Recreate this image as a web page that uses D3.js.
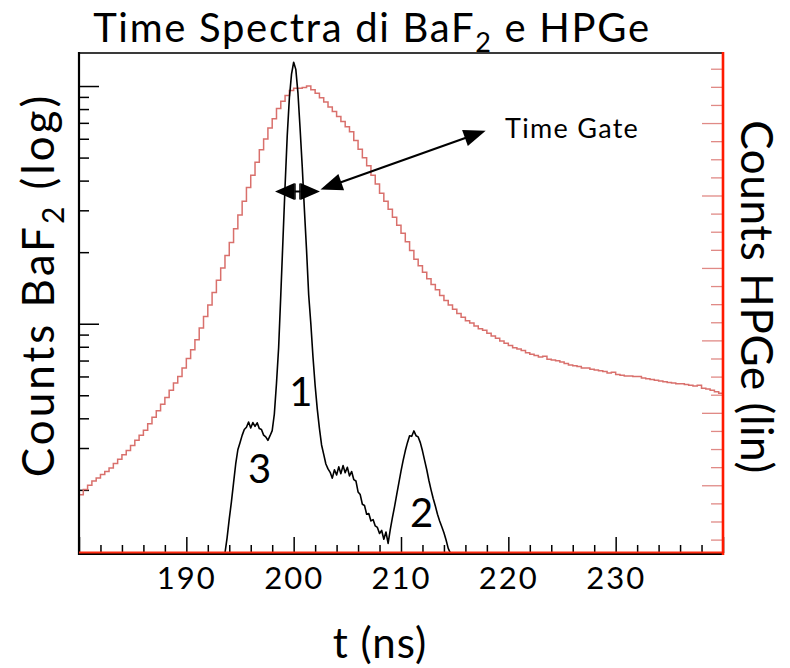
<!DOCTYPE html>
<html>
<head>
<meta charset="utf-8">
<script src="https://cdn.jsdelivr.net/npm/d3@7"></script>
<style>
	body { margin: 0; background: #fff; }
	text { font-family: Lato, "Open Sans", sans-serif; fill: #000; }
</style>
</head>
<body>
<div id="chart"></div>
<script>
// HPGe spectrum (red, linear right axis): 150 bins of 0.4 ns starting at 180 ns
var hpgeStart = 180, hpgeBinWidth = 0.4;
var hpgeCounts = [
	87, 94, 100, 106, 110, 115, 119, 124, 130, 136,
	142, 148, 155, 162, 169, 176, 185, 194, 203, 212,
	221, 231, 241, 250, 262, 275, 287, 301, 317, 333,
	349, 366, 383, 400, 417, 435, 454, 473, 492, 511,
	528, 546, 563, 578, 593, 606, 620, 630, 638, 645,
	648, 648, 649, 651, 646, 641, 635, 629, 622, 616,
	609, 602, 595, 588, 576, 564, 552, 541, 528, 516,
	503, 492, 481, 470, 459, 448, 436, 424, 412, 403,
	394, 385, 377, 370, 362, 355, 349, 343, 337, 332,
	327, 324, 320, 316, 314, 310, 306, 303, 299, 296,
	293, 290, 288, 286, 283, 281, 279, 277, 278, 274,
	273, 272, 270, 268, 266, 265, 264, 262, 262, 260,
	259, 258, 257, 255, 256, 253, 252, 251, 251, 250,
	250, 248, 247, 246, 245, 244, 243, 242, 241, 240,
	240, 239, 238, 237, 238, 234, 233, 231, 229, 227
];

// BaF2 spectrum (black, log left axis): sampled every 0.2 ns from 193.6 ns
var bafStart = 193.6, bafStep = 0.2;
var bafCounts = [
	0, 12.6, 15.1, 17.8, 21.4, 25.7, 29.5, 31.6, 33.9, 35.9,
	36.7, 38.6, 36.4, 38.4, 37.0, 38.3, 36.2, 35.9, 34.0, 33.4,
	32.3, 33.8, 35.5, 41.7, 56.2, 79.4, 132, 224, 380, 617,
	891, 1122, 1259, 1175, 933, 661, 457, 302, 204, 132,
	100, 72.4, 55, 43.7, 36.3, 30.9, 28.2, 25.7, 24.5, 23.7,
	22.4, 24.3, 23.1, 25.0, 23.4, 25.3, 23.6, 24.9, 22.9, 23.9,
	22.1, 21.8, 19.6, 19.1, 17.4, 17.2, 15.8, 15.9, 14.8, 15.0,
	14.1, 13.9, 13.1, 13.5, 12.4, 13.3, 11.9, 13.6, 15.3, 17.0,
	19.1, 21.4, 24.0, 26.6, 29.2, 31.6, 33.8, 33.6, 35.4, 33.8,
	33.4, 31.6, 29.2, 26.6, 24.3, 21.9, 20.0, 18.4, 17.1, 15.8,
	14.8, 14.0, 13.2, 12.3, 11.35, 0
];

var xMajorTicks = [180, 190, 200, 210, 220, 230, 240];
var xLabelTicks = [190, 200, 210, 220, 230];
var logMajorTicks = [100, 1000];
var linMajorTicks = [100, 200, 300, 400, 500, 600];

// peak numbers, placed in data units (t, BaF2 counts)
var peakLabels = [
	{ text: "1", t: 200.68, v: 45 },
	{ text: "3", t: 196.82, v: 21.3 },
	{ text: "2", t: 211.93, v: 13.9 }
];
// time gate annotation
var gateWidth = { t0: 198.26, t1: 202.45, v: 360 };
var gateArrow = { t0: 202.5, v0: 367, t1: 217.89, v1: 649 };
var gateText = { text: "Time Gate", t: 219.69, v: 603 };

var W = 790, H = 668;
var plot = { left: 79, right: 723, top: 53, bottom: 553 };

var x = d3.scaleLinear().domain([180, 240]).range([plot.left, plot.right]);
var yLog = d3.scaleLog().domain([10.85, 1377]).range([plot.bottom, plot.top]);
var yLin = d3.scaleLinear().domain([6.5, 696.7]).range([plot.bottom, plot.top]);

function yb(v) {
	return v < yLog.domain()[0] ? plot.bottom : yLog(v);
}

var svg = d3.select("#chart").append("svg")
	.attr("width", W)
	.attr("height", H);

svg.append("defs").append("clipPath")
	.attr("id", "plotclip")
	.append("rect")
	.attr("x", plot.left)
	.attr("y", plot.top)
	.attr("width", plot.right - plot.left)
	.attr("height", plot.bottom - plot.top);

// minor tick value lists
var xMinorTicks = d3.range(180, 240.1, 2).filter(function(d) { return d % 10 != 0; });
var logMinorTicks = [];
[10, 100, 1000].forEach(function(dec) {
	for (var k = 2; k <= 9; k++) {
		var v = k * dec;
		if (v > yLog.domain()[0] && v < yLog.domain()[1]) logMinorTicks.push(v);
	}
});
var linMinorTicks = d3.range(25, 696, 25).filter(function(d) { return d % 100 != 0; });

// bottom axis ticks, pointing up
var gx = svg.append("g").attr("transform", "translate(0," + plot.bottom + ")");
gx.append("g").call(d3.axisTop(x).tickValues(xMajorTicks).tickSize(16).tickFormat(""));
gx.append("g").call(d3.axisTop(x).tickValues(xMinorTicks).tickSize(8).tickFormat(""));
gx.selectAll("path.domain").remove();
gx.selectAll("line").attr("stroke", "#000").attr("stroke-width", 1.5);

svg.append("g")
	.attr("transform", "translate(0," + (plot.bottom + 4) + ")")
	.call(d3.axisBottom(x).tickValues(xLabelTicks).tickSize(0).tickPadding(10).tickFormat(d3.format("d")))
	.call(function(g) { g.select(".domain").remove(); })
	.selectAll("text")
	.attr("font-size", 31)
	.attr("letter-spacing", 2)
	.attr("font-family", "Lato, 'Open Sans', sans-serif");

// left log axis ticks, pointing right
var gl = svg.append("g").attr("transform", "translate(" + plot.left + ",0)");
gl.append("g").call(d3.axisRight(yLog).tickValues(logMajorTicks).tickSize(20).tickFormat(""));
gl.append("g").call(d3.axisRight(yLog).tickValues(logMinorTicks).tickSize(10).tickFormat(""));
gl.selectAll("path.domain").remove();
gl.selectAll("line").attr("stroke", "#000").attr("stroke-width", 1.5);

// right linear axis ticks, pointing left
var gr = svg.append("g").attr("transform", "translate(" + plot.right + ",0)");
gr.append("g").call(d3.axisLeft(yLin).tickValues(linMajorTicks).tickSize(21).tickFormat(""));
gr.append("g").call(d3.axisLeft(yLin).tickValues(linMinorTicks).tickSize(12).tickFormat(""));
gr.selectAll("path.domain").remove();
gr.selectAll("line").attr("stroke", "#e08a86").attr("stroke-width", 1.3);

var curves = svg.append("g").attr("clip-path", "url(#plotclip)");

// HPGe histogram drawn as steps
var hpgeEdges = hpgeCounts.map(function(c, i) { return { t: hpgeStart + i * hpgeBinWidth, c: c }; });
hpgeEdges.push({ t: hpgeStart + hpgeCounts.length * hpgeBinWidth, c: hpgeCounts[hpgeCounts.length - 1] });
curves.append("path")
	.attr("class", "hpge")
	.attr("fill", "none")
	.attr("stroke", "#d9706c")
	.attr("stroke-width", 1.5)
	.attr("d", d3.line()
		.curve(d3.curveStepAfter)
		.x(function(d) { return x(d.t); })
		.y(function(d) { return yLin(d.c); })(hpgeEdges));

// BaF2 spectrum
curves.append("path")
	.attr("class", "baf2")
	.attr("fill", "none")
	.attr("stroke", "#000")
	.attr("stroke-width", 1.6)
	.attr("stroke-linejoin", "round")
	.attr("d", d3.line()
		.x(function(d, i) { return x(bafStart + i * bafStep); })
		.y(function(d) { return yb(d); })(bafCounts));

// frame
svg.append("line")
	.attr("x1", plot.left).attr("x2", plot.right)
	.attr("y1", plot.top).attr("y2", plot.top)
	.attr("stroke", "#3a3a3a").attr("stroke-width", 2.2);
svg.append("line")
	.attr("x1", plot.left).attr("x2", plot.left)
	.attr("y1", plot.top - 1).attr("y2", plot.bottom + 2)
	.attr("stroke", "#000").attr("stroke-width", 2.2);
svg.append("line")
	.attr("x1", plot.left).attr("x2", plot.right + 1)
	.attr("y1", plot.bottom + 1).attr("y2", plot.bottom + 1)
	.attr("stroke", "#000").attr("stroke-width", 2);
svg.append("line")
	.attr("x1", plot.left).attr("x2", plot.right + 1)
	.attr("y1", plot.bottom - 0.5).attr("y2", plot.bottom - 0.5)
	.attr("stroke", "#ff2a10").attr("stroke-width", 1.8);
svg.append("line")
	.attr("x1", plot.right).attr("x2", plot.right)
	.attr("y1", plot.top - 1).attr("y2", plot.bottom + 2)
	.attr("stroke", "#ff1a00").attr("stroke-width", 2.6);

// arrows
function arrowHead(g, xTip, yTip, angle, len, half) {
	var ca = Math.cos(angle), sa = Math.sin(angle);
	var bx = xTip - len * ca, by = yTip - len * sa;
	g.append("path")
		.attr("d", "M" + xTip + "," + yTip +
			" L" + (bx - half * sa) + "," + (by + half * ca) +
			" L" + (bx + half * sa) + "," + (by - half * ca) + " Z")
		.attr("fill", "#000");
}

var ann = svg.append("g").attr("class", "annotations");

// small double arrow across the peak
var gy = yLog(gateWidth.v), gxa = x(gateWidth.t0), gxb = x(gateWidth.t1);
var gmid = (gxa + gxb) / 2;
arrowHead(ann, gxa, gy, Math.PI, gmid - gxa - 3, 8.5);
arrowHead(ann, gxb, gy, 0, gxb - gmid - 3, 8.5);
ann.append("line")
	.attr("x1", gmid - 3).attr("x2", gmid + 3)
	.attr("y1", gy).attr("y2", gy)
	.attr("stroke", "#000").attr("stroke-width", 2);
ann.append("line")
	.attr("x1", gmid - 2.5).attr("x2", gmid - 2.5)
	.attr("y1", gy - 8).attr("y2", gy + 8)
	.attr("stroke", "#000").attr("stroke-width", 1.5);
ann.append("line")
	.attr("x1", gmid + 2.5).attr("x2", gmid + 2.5)
	.attr("y1", gy - 8).attr("y2", gy + 8)
	.attr("stroke", "#000").attr("stroke-width", 1.5);

// long double arrow to the label
var ax0 = x(gateArrow.t0), ay0 = yLog(gateArrow.v0);
var ax1 = x(gateArrow.t1), ay1 = yLog(gateArrow.v1);
var ang = Math.atan2(ay1 - ay0, ax1 - ax0);
ann.append("line")
	.attr("x1", ax0 + 15 * Math.cos(ang)).attr("y1", ay0 + 15 * Math.sin(ang))
	.attr("x2", ax1 - 15 * Math.cos(ang)).attr("y2", ay1 - 15 * Math.sin(ang))
	.attr("stroke", "#000").attr("stroke-width", 2.2);
arrowHead(ann, ax1, ay1, ang, 22, 8.5);
arrowHead(ann, ax0, ay0, ang + Math.PI, 22, 8.5);

ann.append("text")
	.attr("x", x(gateText.t))
	.attr("y", yLog(gateText.v))
	.attr("font-size", 27)
	.attr("letter-spacing", 1.3)
	.text(gateText.text);

ann.selectAll(".peak-label")
	.data(peakLabels)
	.enter()
		.append("text")
		.attr("class", "peak-label")
		.attr("text-anchor", "middle")
		.attr("x", function(d) { return x(d.t); })
		.attr("y", function(d) { return yLog(d.v); })
		.attr("font-size", 40)
		.text(function(d) { return d.text; });

// titles
var title = svg.append("text")
	.attr("x", 372)
	.attr("y", 42)
	.attr("text-anchor", "middle")
	.attr("font-size", 40)
	.attr("letter-spacing", 1.7);
title.append("tspan").text("Time Spectra di BaF");
title.append("tspan").attr("font-size", 27).attr("dy", 10).text("2");
title.append("tspan").attr("dy", -10).text(" e HPGe");

var ylab = svg.append("text")
	.attr("transform", "translate(54,285) rotate(-90)")
	.attr("text-anchor", "middle")
	.attr("font-size", 44)
	.attr("letter-spacing", 3);
ylab.append("tspan").text("Counts BaF");
ylab.append("tspan").attr("font-size", 30).attr("dy", 10).text("2");
ylab.append("tspan").attr("dy", -10).text(" (log)");

svg.append("text")
	.attr("transform", "translate(741,297) rotate(90)")
	.attr("text-anchor", "middle")
	.attr("font-size", 44)
	.attr("letter-spacing", 0.6)
	.text("Counts HPGe (lin)");

svg.append("text")
	.attr("x", 380)
	.attr("y", 658)
	.attr("text-anchor", "middle")
	.attr("font-size", 42)
	.attr("letter-spacing", 1)
	.text("t (ns)");
</script>
</body>
</html>
